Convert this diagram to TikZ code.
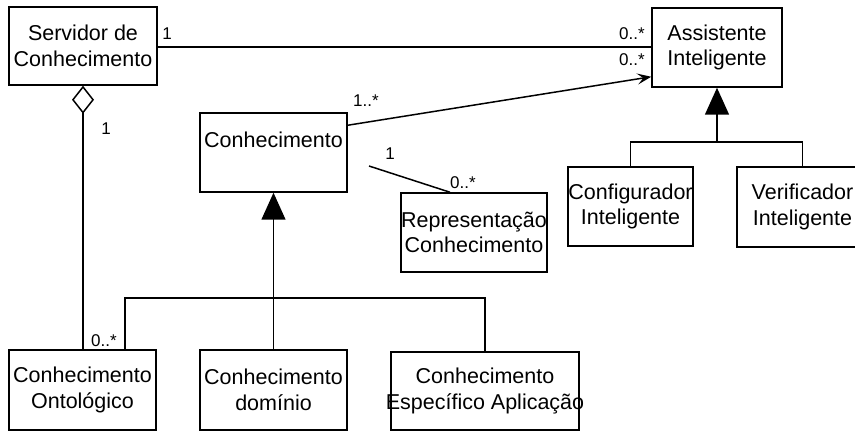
\documentclass[tikz,border=0pt]{standalone}
\usepackage{fontspec}
\setmainfont{Liberation Sans}
\usetikzlibrary{arrows.meta}
% zero-width centred line, so long names may overrun the class box
\newcommand{\zline}[1]{\makebox[0pt][c]{#1}}
\begin{document}
\begin{tikzpicture}[x=1pt,y=-1pt,
  line width=1.5pt,
  cls/.style={draw, inner sep=0pt, align=center,
    font=\fontsize{21.5}{25.5}\selectfont},
  mult/.style={inner sep=0pt, font=\fontsize{17}{19}\selectfont},
  gen/.style={-{Triangle[length=27pt,width=24pt]}},
  agg/.style={{Diamond[open,length=28pt,width=22pt]}-},
  nav/.style={-{Stealth[length=14pt,width=11pt,inset=6pt]}}]
\fill[white] (0,0) rectangle (855,433);
\useasboundingbox (0,0) rectangle (855,433);

% classes
\node[cls, minimum width=148pt, minimum height=78pt] (serv) at (83,46)
  {\zline{Servidor de}\\\zline{Conhecimento}};
\node[cls, minimum width=130pt, minimum height=79pt] (asst) at (717,47.5)
  {\zline{Assistente}\\\zline{Inteligente}};
\node[cls, minimum width=147pt, minimum height=79pt] (conh) at (273.5,152.5)
  {\zline{Conhecimento}\\\mbox{}};
\node[cls, minimum width=146pt, minimum height=79pt] (rep) at (474,232.5)
  {\zline{Representação}\\\zline{Conhecimento}};
\node[cls, minimum width=125pt, minimum height=79pt] (config) at (630.5,206.5)
  {\zline{Configurador}\\\zline{Inteligente}};
\node[cls, minimum width=131pt, minimum height=80pt] (verif) at (802.5,207)
  {\zline{Verificador}\\\zline{Inteligente}};
\node[cls, minimum width=147pt, minimum height=80pt] (ontol) at (82.5,390)
  {\zline{Conhecimento}\\\zline{Ontológico}};
\node[cls, minimum width=147pt, minimum height=80pt] (dom) at (273.5,390)
  {\zline{Conhecimento}\\\zline{domínio}};
\node[cls, minimum width=188pt, minimum height=78pt] (espec) at (485,391)
  {\zline{Conhecimento}\\\zline{Específico Aplicação}};

% helper rows
\coordinate (barA) at (0,298);
\coordinate (barB) at (0,142);
\coordinate (repfree) at (369,166);

% associations
\draw (serv.east |- 0,47) -- (asst.west |- 0,47);
\draw[nav] ([yshift=-13pt]conh.north east) -- ([yshift=11pt]asst.south west);
\draw (repfree) -- ([xshift=-24pt]rep.north);
\draw[agg] (serv.south) -- (serv.south |- ontol.north);

% generalisations
\draw ([xshift=42.5pt]ontol.north) |- (espec.north |- barA) -- (espec.north);
\draw[gen] (dom.north) -- (conh.south);
\draw (config.north) |- (verif.north |- barB) -- (verif.north);
\draw[gen] (asst.south |- barB) -- (asst.south);

% multiplicities
\node[mult] (m1) at (167,34) {1};
\node[mult] (m2) at (632,34) {0..*};
\node[mult] (m3) at (632,60) {0..*};
\node[mult] (m4) at (366,101) {1..*};
\node[mult] (m5) at (106,129) {1};
\node[mult] (m6) at (104,341) {0..*};
\node[mult] (m7) at (390,154) {1};
\node[mult] (m8) at (463,183) {0..*};
\end{tikzpicture}
\end{document}
